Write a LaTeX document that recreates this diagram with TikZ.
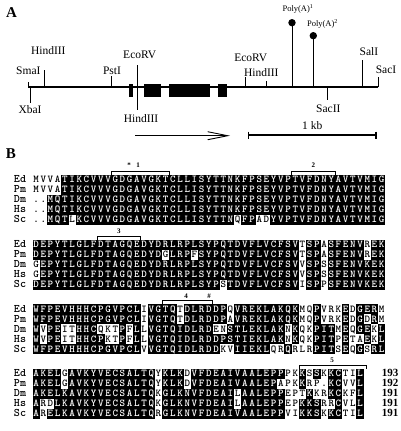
\documentclass[tikz,border=0pt]{standalone}
\usepackage{fontspec}
\setmainfont{Liberation Serif}
\usetikzlibrary{arrows.meta}
\newcommand\seqfont{\ttfamily\bfseries\fontsize{10.5}{10.5}\selectfont}
\def\seqcell#1{%
  \ifnum`#1>`Z
    \makebox[7.2pt]{\uppercase{#1}}%
  \else
    \ifx.#1\makebox[7.2pt]{.}%
    \else\rlap{\rule[-1.9pt]{7.3pt}{10.1pt}}\makebox[7.2pt]{\color{white}#1}%
    \fi
  \fi}
\def\seqloop#1#2\relax{\seqcell#1\ifx\relax#2\relax\else\seqloop#2\relax\fi}
\newcommand\seqrow[1]{\seqloop#1\relax}
\tikzset{
  site/.style={font=\fontsize{11.5}{12}\selectfont, anchor=base, inner sep=0pt},
  polylab/.style={font=\fontsize{8.5}{9}\selectfont, anchor=base, inner sep=0pt},
  tick/.style={line width=0.9pt},
  seqline/.style={anchor=base west, inner sep=0pt, outer sep=0pt, font=\seqfont},
  namelab/.style={anchor=base, inner sep=0pt, font=\ttfamily\bfseries\fontsize{11.5}{11.5}\selectfont},
  numlab/.style={anchor=base, inner sep=0pt, font=\bfseries\fontsize{11}{11}\selectfont},
  brk/.style={line width=0.8pt},
  brklab/.style={inner sep=0pt, font=\bfseries\fontsize{7}{7}\selectfont},
  panel/.style={inner sep=0pt, font=\bfseries\fontsize{15}{15}\selectfont}
}
\begin{document}
\begin{tikzpicture}[x=1pt,y=-1pt]
\useasboundingbox (0,0) rectangle (400,431);
% ---------------- Panel A ----------------
\node[panel] (pA) at (11.5,13) {A};
\draw[line width=2.6pt] (28,87) -- (378,87);
\fill (129.3,84) rectangle (132.7,97.3);
\fill (144,84) rectangle (160.7,97.3);
\fill (169,84) rectangle (210,97.3);
\fill (218.3,84) rectangle (226.7,97.3);
% ticks
\draw[tick] (28,87) -- (28,81.7);
\draw[tick] (30,87) -- (30,103);
\draw[tick] (44,87) -- (44,70);
\draw[tick] (111,87) -- (111,76);
\draw[tick] (137,65) -- (137,110);
\draw[tick] (245,87) -- (245,77);
\draw[tick] (266,87) -- (266,81);
\draw[tick] (327.3,87) -- (327.3,100);
\draw[tick] (362.7,87) -- (362.7,60);
\draw[tick] (378,87) -- (378,77);
\draw[tick] (292,87) -- (292,22.7);
\draw[tick] (313.3,87) -- (313.3,35.7);
\fill (292,22.7) circle (3.7);
\fill (313.3,35.7) circle (3.7);
% labels
\node[site] (smai) at (28.3,74.8) {SmaI};
\node[site] (xbai) at (30,113.8) {XbaI};
\node[site] (hind1) at (48.3,54.5) {HindIII};
\node[site] (psti) at (112,74.8) {PstI};
\node[site] (ecorv1) at (139.7,58.1) {EcoRV};
\node[site] (hind3) at (141,122.1) {HindIII};
\node[site] (ecorv2) at (250.8,61.1) {EcoRV};
\node[site] (hind2) at (261.3,76.5) {HindIII};
\node[site] (sacii) at (328.3,112.1) {SacII};
\node[site] (sali) at (369,55.5) {SalI};
\node[site] (saci) at (386,73.8) {SacI};
\node[polylab] (pa1) at (298,11.1) {Poly(A)\textsuperscript{1}};
\node[polylab] (pa2) at (322.5,26.8) {Poly(A)\textsuperscript{2}};
% arrow and scale
\coordinate (arA) at (135,135.7);
\coordinate (arB) at (230,135.7);
\draw[line width=0.9pt, -{Straight Barb[length=20pt,width=8pt,line width=0.9pt]}] (arA) -- (arB);
\coordinate (sbA) at (248.3,135);
\coordinate (sbB) at (376,135);
\draw[line width=1.1pt] (sbA) -- (sbB);
\draw[line width=1.1pt] (248.3,131.5) -- (248.3,138.5);
\draw[line width=1.1pt] (376,131.5) -- (376,138.5);
\node[site] (kb) at (312.3,129.8) {1 kb};
% ---------------- Panel B ----------------
\node[panel] (pB) at (11,154) {B};
% block 1
\node[namelab] (n1a) at (20,182.7) {Ed};
\node[namelab] (n1b) at (20,192.7) {Pm};
\node[namelab] (n1c) at (20,202.7) {Dm};
\node[namelab] (n1d) at (20,212.7) {Hs};
\node[namelab] (n1e) at (20,222.7) {Sc};
\node[seqline] (s1a) at (32.5,182.7) {\seqrow{mvvaTIKCVVVGDGAVGKTCLLISYTTNKFPSEYVPTVFDNYAVTVMIG}};
\node[seqline] (s1b) at (32.5,192.7) {\seqrow{mvvaTIKCVVVGDGAVGKTCLLISYTTNKFPSEYVPTVFDNYAVTVMIG}};
\node[seqline] (s1c) at (32.5,202.7) {\seqrow{..MQTIKCVVVGDGAVGKTCLLISYTTNKFPSEYVPTVFDNYAVTVMIG}};
\node[seqline] (s1d) at (32.5,212.7) {\seqrow{..MQTIKCVVVGDGAVGKTCLLISYTTNKFPSEYVPTVFDNYAVTVMIG}};
\node[seqline] (s1e) at (32.5,222.7) {\seqrow{..MQTlKCVVVGDGAVGKTCLLISYTTNqFPadYVPTVFDNYAVTVMIG}};
\draw[brk] (111.7,174.5) -- (111.7,171) -- (169.3,171) -- (169.3,174.5);
\node[brklab] (m1s) at (129,165.5) {*};
\node[brklab] (m1) at (138,165.5) {1};
\draw[brk] (291.7,174.5) -- (291.7,171) -- (334.9,171) -- (334.9,174.5);
\node[brklab] (m2) at (313.3,165.5) {2};
% block 2
\node[namelab] (n2a) at (20,247.7) {Ed};
\node[namelab] (n2b) at (20,257.7) {Pm};
\node[namelab] (n2c) at (20,267.7) {Dm};
\node[namelab] (n2d) at (20,277.7) {Hs};
\node[namelab] (n2e) at (20,287.7) {Sc};
\node[seqline] (s2a) at (32.5,247.7) {\seqrow{DEPYTLGLFDTAGQEDYDRLRPLSYPQTDVFLVCFSVtSPaSFENVrEK}};
\node[seqline] (s2b) at (32.5,257.7) {\seqrow{DEPYTLGLFDTAGQEDYDgLRPfSYPQTDVFLVCFSVtSPaSFENVrEK}};
\node[seqline] (s2c) at (32.5,267.7) {\seqrow{gEPYTLGLFDTAGQEDYDRLRPLSYPQTDVFLVCFSVvSPsSFENVKEK}};
\node[seqline] (s2d) at (32.5,277.7) {\seqrow{gEPYTLGLFDTAGQEDYDRLRPLSYPQTDVFLVCFSVvSPsSFENVKEK}};
\node[seqline] (s2e) at (32.5,287.7) {\seqrow{DEPYTLGLFDTAGQEDYDRLRPLSYPsTDVFLVCFSViSPpSFENVKEK}};
\draw[brk] (97.3,239.5) -- (97.3,236) -- (140.5,236) -- (140.5,239.5);
\node[brklab] (m3) at (118.9,231) {3};
% block 3
\node[namelab] (n3a) at (20,312.2) {Ed};
\node[namelab] (n3b) at (20,322.2) {Pm};
\node[namelab] (n3c) at (20,332.2) {Dm};
\node[namelab] (n3d) at (20,342.2) {Hs};
\node[namelab] (n3e) at (20,352.2) {Sc};
\node[seqline] (s3a) at (32.5,312.2) {\seqrow{WFPEVHHHCPGVPCLiVGTQtDLRDDPqVREKLAKQKmqPvrkEdGERm}};
\node[seqline] (s3b) at (32.5,322.2) {\seqrow{WFPEVHHHCPGVPCLiVGTQtDLRDDPaVREKLAKQKmqPvrkEdGdRm}};
\node[seqline] (s3c) at (32.5,332.2) {\seqrow{WvPEitHHCqktPfLlVGTQIDLRDenSTLEKLAKnKqkPITmEqGEkL}};
\node[seqline] (s3d) at (32.5,342.2) {\seqrow{WvPEitHHCPktPfLlVGTQIDLRDDPSTIEKLAKnKqkPITpEtaEkL}};
\node[seqline] (s3e) at (32.5,352.2) {\seqrow{WFPEVHHHCPGVPCLvVGTQIDLRDDkvIIEKLqrQrlrPITsEqGsRL}};
\draw[brk] (162.1,304) -- (162.1,300.5) -- (212.5,300.5) -- (212.5,304);
\node[brklab] (m4) at (186,296) {4};
\node[brklab] (m4h) at (209,296) {\#};
% block 4
\node[namelab] (n4a) at (20,376.7) {Ed};
\node[namelab] (n4b) at (20,386.7) {Pm};
\node[namelab] (n4c) at (20,396.7) {Dm};
\node[namelab] (n4d) at (20,406.7) {Hs};
\node[namelab] (n4e) at (20,416.7) {Sc};
\node[seqline] (s4a) at (32.5,376.7) {\seqrow{AKELgAVKYVECSALTQyKLKdVFDEAIVAALEPPpkKsSkKCtiL}};
\node[seqline] (s4b) at (32.5,386.7) {\seqrow{AKELgAVKYVECSALTQyKLKdVFDEAIVAALEPapkKrp.KCvvL}};
\node[seqline] (s4c) at (32.5,396.7) {\seqrow{AKELKAVKYVECSALTQkGLKNVFDEAIlAALEPPeptKkrKCkfL}};
\node[seqline] (s4d) at (32.5,406.7) {\seqrow{ArdLKAVKYVECSALTQkGLKNVFDEAIlAALEPPepKKSrrCvlL}};
\node[seqline] (s4e) at (32.5,416.7) {\seqrow{ArELKAVKYVECSALTQrGLKNVFDEAIVAALEPPviKKSkKCtiL}};
\draw[brk] (298.9,368.5) -- (298.9,365) -- (366,365) -- (366,368.5);
\node[brklab] (m5) at (332,360.5) {5};
\node[numlab] (c1) at (390,376.7) {193};
\node[numlab] (c2) at (390,386.7) {192};
\node[numlab] (c3) at (390,396.7) {191};
\node[numlab] (c4) at (390,406.7) {191};
\node[numlab] (c5) at (390,416.7) {191};
\end{tikzpicture}
\end{document}
